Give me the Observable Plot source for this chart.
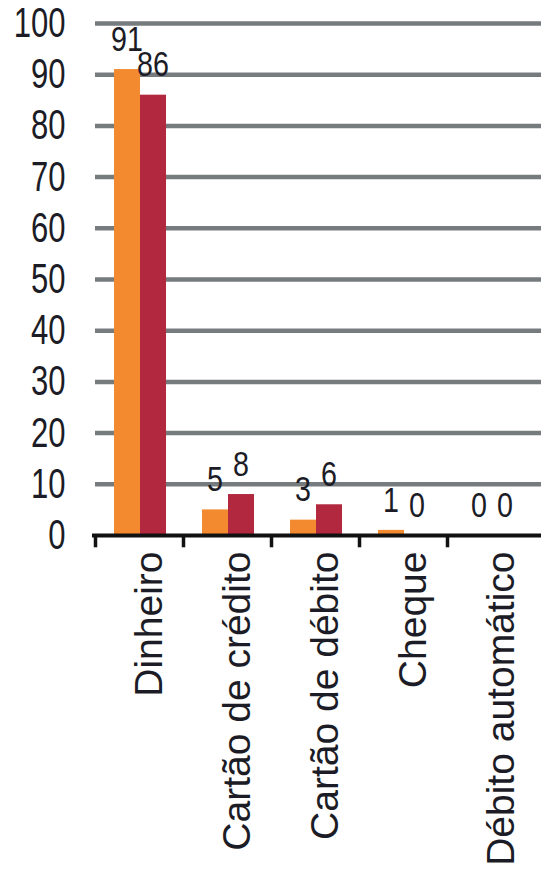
<!DOCTYPE html>
<html>
<head>
<meta charset="utf-8">
<script src="https://cdn.jsdelivr.net/npm/d3@7"></script>
<script src="https://cdn.jsdelivr.net/npm/@observablehq/plot@0.6"></script>
<style>
  html, body { margin: 0; padding: 0; background: #fff; }
  #chart svg { display: block; }
</style>
</head>
<body>
<div id="chart"></div>
<script>
const categories = ["Dinheiro", "Cartão de crédito", "Cartão de débito", "Cheque", "Débito automático"];
const seriesA = [91, 5, 3, 1, 0];   // laranja
const seriesB = [86, 8, 6, 0, 0];   // vermelho
const yTicks = [0, 10, 20, 30, 40, 50, 60, 70, 80, 90, 100];

const dataA = categories.map((c, i) => ({category: c, value: seriesA[i]}));
const dataB = categories.map((c, i) => ({category: c, value: seriesB[i]}));

const orange = "#F38A30";
const crimson = "#B1283F";
const ink = "#1c1c26";

const chart = Plot.plot({
  width: 541,
  height: 875,
  marginTop: 23,
  marginBottom: 340,
  marginLeft: 95,
  marginRight: 0,
  style: {fontFamily: "'Liberation Sans', Arial, sans-serif", color: ink, background: "#fff"},
  x: {type: "band", domain: categories, range: [95, 535], padding: 0},
  y: {domain: [0, 100], ticks: yTicks},
  marks: [
    Plot.ruleY(yTicks.filter(d => d > 0), {stroke: "#767b7e", strokeWidth: 4.5}),
    Plot.barY(dataA, {x: "category", y: "value", fill: orange, insetLeft: 19, insetRight: 43}),
    Plot.barY(dataB, {x: "category", y: "value", fill: crimson, insetLeft: 45, insetRight: 17}),
    Plot.ruleY([0], {stroke: "#111", strokeWidth: 4, insetLeft: -3}),
    Plot.ruleX(categories, {x: d => d, dx: -44, y1: 0, y2: -2.4, stroke: "#111", strokeWidth: 3.5}),
    Plot.text(dataA, {x: "category", y: "value", text: d => String(d.value), dx: -12.5, dy: -30,
      fontSize: 35, fill: ink, className: "vlabel"}),
    Plot.text(dataB, {x: "category", y: "value", text: d => String(d.value), dx: 13.5, dy: -30,
      fontSize: 35, fill: ink, className: "vlabel"}),
    Plot.axisY({ticks: yTicks, tickSize: 0, tickPadding: 30, fontSize: 42, label: null, className: "ylabel"}),
    Plot.axisX({tickRotate: -90, tickSize: 0, tickPadding: 16, fontSize: 39, dx: 10, label: null})
  ]
});

// condensed look of the numeric texts (horizontal squeeze around each anchor)
function squeeze(sel, k) {
  d3.select(chart).selectAll(sel).each(function () {
    const t = this.getAttribute("transform") || "";
    this.setAttribute("transform", (t + ` scale(${k},1)`).trim());
  });
}
squeeze(".ylabel text", 0.74);
squeeze(".vlabel text", 0.82);

document.getElementById("chart").appendChild(chart);
</script>
</body>
</html>
